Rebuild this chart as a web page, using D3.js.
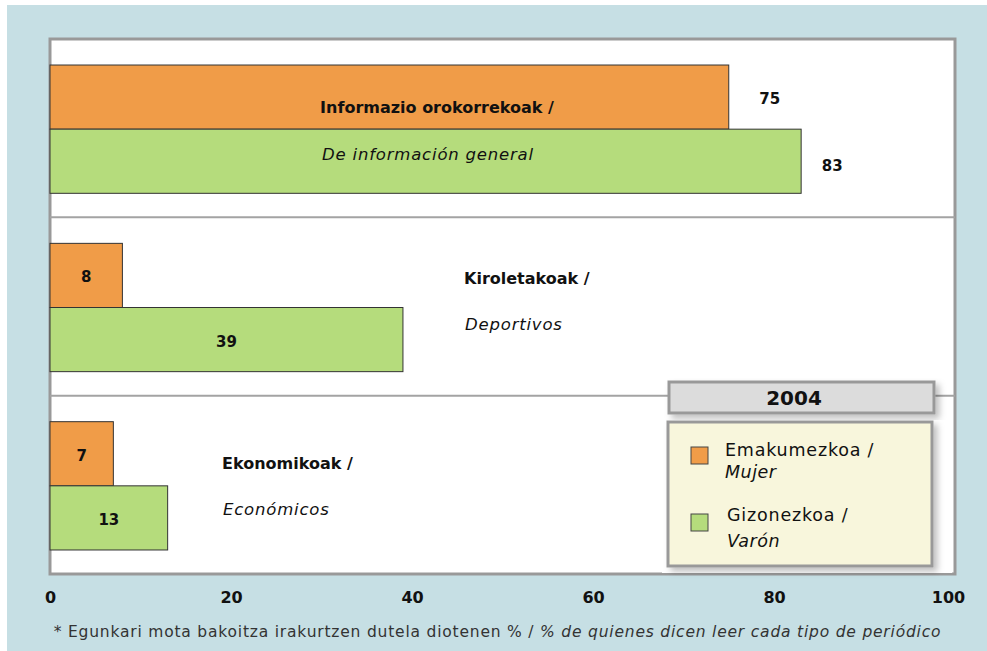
<!DOCTYPE html>
<html>
<head>
<meta charset="utf-8">
<script src="https://cdn.jsdelivr.net/npm/d3@7"></script>
<style>
  body { margin: 0; background: #fff; }
  text { font-family: "DejaVu Sans", Verdana, sans-serif; }
</style>
</head>
<body>
<div id="chart"></div>
<script>
// Data
const categories = ["general", "sport", "economy"];
const labelsEu = ["Informazio orokorrekoak /", "Kiroletakoak /", "Ekonomikoak /"];
const labelsEs = ["De información general", "Deportivos", "Económicos"];
const women = [75, 8, 7];
const men = [83, 39, 13];
const xTicks = [0, 20, 40, 60, 80, 100];
const legendTitle = "2004";
const legendEu = ["Emakumezkoa /", "Gizonezkoa /"];
const legendEs = ["Mujer", "Varón"];
const footEu = "* Egunkari mota bakoitza irakurtzen dutela diotenen % / ";
const footEs = "% de quienes dicen leer cada tipo de periódico";

let width = 987, height = 651;
let margin = { top: 39, bottom: 77, left: 50, right: 32 };

const orange = "#f09c48", green = "#b5dc7c";

let svg = d3.select("#chart")
            .append("svg")
            .attr("width", width)
            .attr("height", height);

// light blue panel
svg.append("rect")
   .attr("x", 7).attr("y", 5)
   .attr("width", width - 7).attr("height", height - 5)
   .attr("fill", "#c6dfe4");

// plot area
svg.append("rect")
   .attr("x", margin.left).attr("y", margin.top)
   .attr("width", width - margin.left - margin.right)
   .attr("height", height - margin.top - margin.bottom)
   .attr("fill", "#fff")
   .attr("stroke", "#999")
   .attr("stroke-width", 3);

// scales
const x = d3.scaleLinear()
            .domain([0, 100])
            .range([margin.left, width - margin.right]);

const y = d3.scaleBand()
            .domain(categories)
            .range([margin.top, height - margin.bottom]);

const sub = d3.scaleBand()
              .domain(["w", "m"])
              .range([0, y.bandwidth()])
              .paddingOuter(0.39)
              .paddingInner(0)
              .align(0.52);

// separators between groups
svg.selectAll(".sep")
   .data(categories.slice(1))
   .enter()
   .append("line")
   .attr("x1", margin.left)
   .attr("x2", width - margin.right)
   .attr("y1", d => y(d))
   .attr("y2", d => y(d))
   .attr("stroke", "#a3a3a3")
   .attr("stroke-width", 2);

// x axis
const xAxis = svg.append("g")
   .attr("transform", `translate(0,${height - margin.bottom + 18})`)
   .call(d3.axisBottom(x).tickValues(xTicks).tickSize(0).tickPadding(0));
xAxis.select(".domain").remove();
xAxis.selectAll("text")
     .attr("font-family", "DejaVu Sans, sans-serif")
     .attr("font-size", 16)
     .attr("font-weight", "bold")
     .attr("fill", "#111")
     .attr("dx", d => d === 100 ? -7 : 0);

// bars
const series = [
  { key: "w", values: women, color: orange },
  { key: "m", values: men, color: green }
];

series.forEach(s => {
  svg.selectAll(".bar-" + s.key)
     .data(categories)
     .enter()
     .append("rect")
     .attr("x", x(0))
     .attr("y", d => y(d) + sub(s.key))
     .attr("width", (d, i) => x(s.values[i]) - x(0))
     .attr("height", sub.bandwidth())
     .attr("fill", s.color)
     .attr("stroke", "#333")
     .attr("stroke-width", 1);
});

// value labels: first group outside the bar, others centred inside
series.forEach(s => {
  categories.forEach((c, i) => {
    let v = s.values[i];
    let cy = y(c) + sub(s.key) + sub.bandwidth() / 2;
    let cx;
    if (i === 0) cx = x(v) + (s.key === "w" ? 41 : 31);
    else cx = (x(0) + x(v)) / 2;
    svg.append("text")
       .attr("x", cx)
       .attr("y", cy + (i === 0 && s.key === "m" ? 5 : 2))
       .attr("text-anchor", "middle")
       .attr("dominant-baseline", "central")
       .attr("font-size", 15)
       .attr("font-weight", "bold")
       .attr("fill", "#111")
       .text(v);
  });
});

// category labels
const catPos = [
  { x: 437, anchor: "middle", dy1: 68, dy2: 115 },
  { x: 464, anchor: "start", dy1: 61, dy2: 107 },
  { x: 222, anchor: "start", dy1: 68, dy2: 114 }
];
categories.forEach((c, i) => {
  let p = catPos[i];
  svg.append("text")
     .attr("x", p.x)
     .attr("y", y(c) + p.dy1)
     .attr("text-anchor", p.anchor)
     .attr("dominant-baseline", "central")
     .attr("font-size", 16)
     .attr("font-weight", "bold")
     .attr("fill", "#111")
     .text(labelsEu[i]);
  svg.append("text")
     .attr("x", p.x + (i === 0 ? -9 : 1))
     .attr("y", y(c) + p.dy2)
     .attr("text-anchor", p.anchor)
     .attr("dominant-baseline", "central")
     .attr("font-size", 16.5)
     .attr("letter-spacing", 0.8)
     .attr("font-style", "italic")
     .attr("fill", "#111")
     .text(labelsEs[i]);
});

// legend
const lg = svg.append("g");
lg.append("rect")
  .attr("x", 662).attr("y", 397)
  .attr("width", 290).attr("height", 176)
  .attr("fill", "#fff");

const shadow = svg.append("defs").append("filter")
  .attr("id", "shadow")
  .attr("x", "-10%").attr("y", "-10%")
  .attr("width", "130%").attr("height", "130%");
shadow.append("feDropShadow")
  .attr("dx", 4).attr("dy", 4)
  .attr("stdDeviation", 3)
  .attr("flood-color", "#000")
  .attr("flood-opacity", 0.25);

lg.append("rect")
  .attr("x", 669).attr("y", 382)
  .attr("width", 265).attr("height", 31)
  .attr("fill", "#dcdcdc")
  .attr("stroke", "#999")
  .attr("stroke-width", 3)
  .attr("filter", "url(#shadow)");
lg.append("text")
  .attr("x", 794).attr("y", 398)
  .attr("text-anchor", "middle")
  .attr("dominant-baseline", "central")
  .attr("font-family", "Liberation Sans, Arial, sans-serif")
  .attr("font-size", 20)
  .attr("font-weight", "bold")
  .attr("fill", "#111")
  .text(legendTitle);

lg.append("rect")
  .attr("x", 668).attr("y", 422)
  .attr("width", 264).attr("height", 144)
  .attr("fill", "#f8f6dc")
  .attr("stroke", "#999")
  .attr("stroke-width", 3)
  .attr("filter", "url(#shadow)");

[orange, green].forEach((col, i) => {
  let top = 447 + i * 67;
  lg.append("rect")
    .attr("x", 691).attr("y", top)
    .attr("width", 17).attr("height", 17)
    .attr("fill", col)
    .attr("stroke", "#444")
    .attr("stroke-width", 1);
  lg.append("text")
    .attr("x", 725 + i * 2).attr("y", top + 3 - i * 2)
    .attr("dominant-baseline", "central")
    .attr("font-size", 17.5)
    .attr("letter-spacing", 0.8)
    .attr("fill", "#111")
    .text(legendEu[i]);
  lg.append("text")
    .attr("x", 725 + i * 2).attr("y", top + 25 + i * 2)
    .attr("dominant-baseline", "central")
    .attr("font-size", 17.5)
    .attr("letter-spacing", 0.5)
    .attr("font-style", "italic")
    .attr("fill", "#111")
    .text(legendEs[i]);
});

// footnote
const foot = svg.append("text")
  .attr("x", width / 2 + 4)
  .attr("y", 632)
  .attr("text-anchor", "middle")
  .attr("dominant-baseline", "central")
  .attr("font-size", 15.5)
  .attr("letter-spacing", 0.8)
  .attr("fill", "#333");
foot.append("tspan").text(footEu);
foot.append("tspan").attr("font-style", "italic").text(footEs);
</script>
</body>
</html>
